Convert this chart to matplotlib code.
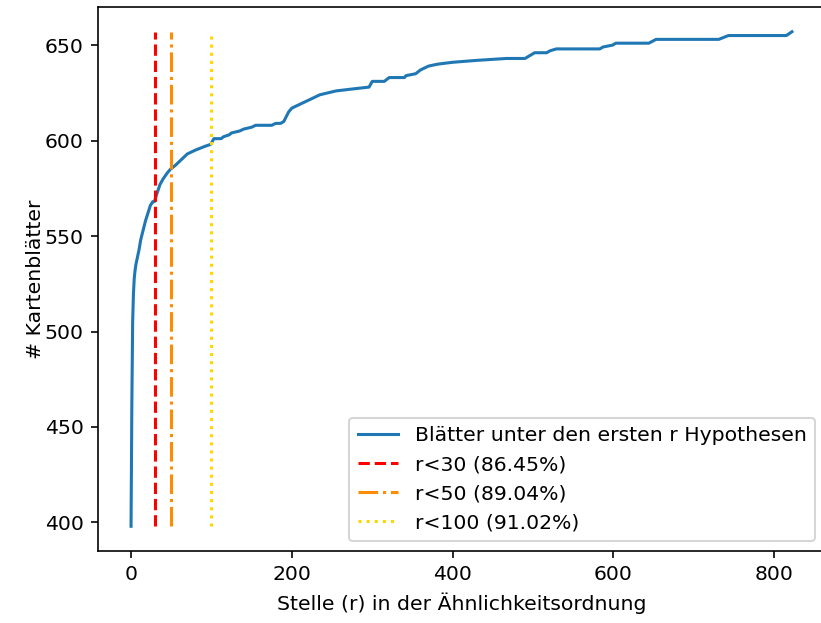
import numpy as np
import matplotlib
matplotlib.use("Agg")
import matplotlib.pyplot as plt

# Rang r in der Ähnlichkeitsordnung und Anzahl der Kartenblätter,
# deren richtige Hypothese unter den ersten r Kandidaten liegt.
ranks = [0, 1, 2, 3, 4, 5, 6, 8, 10, 12, 15, 18, 21, 24, 27, 29, 32, 36, 40,
         45, 49, 55, 60, 65, 70, 75, 80, 86, 92, 99, 103, 112, 115, 122, 125,
         135, 140, 150, 155, 175, 180, 186, 190, 196, 200, 205, 215, 225, 235,
         245, 255, 275, 296, 300, 315, 321, 340, 342, 354, 360, 370, 381, 400,
         430, 467, 490, 502, 517, 521, 529, 583, 587, 599, 603, 644, 653, 731,
         743, 815, 822]
sheets = [398, 462, 505, 520, 528, 532, 535, 539, 543, 548, 553, 558, 562, 566,
          568, 568, 572, 577, 580, 583, 585, 587, 589, 591, 593, 594, 595, 596,
          597, 598, 601, 601, 602, 603, 604, 605, 606, 607, 608, 608, 609, 609,
          610, 615, 617, 618, 620, 622, 624, 625, 626, 627, 628, 631, 631, 633,
          633, 634, 635, 637, 639, 640, 641, 642, 643, 643, 646, 646, 647, 648,
          648, 649, 650, 651, 651, 653, 653, 655, 655, 657]

cutoffs = [30, 50, 100]
cut_colors = ["red", "darkorange", "gold"]
cut_styles = ["--", "-.", ":"]

ranks = np.array(ranks)
sheets = np.array(sheets)
total = sheets.max()

DPI = 147
fig = plt.figure(figsize=(821 / DPI, 623 / DPI), dpi=DPI)
ax = fig.add_axes([98 / 821, 72 / 623, 727 / 821, 544 / 623])

ax.plot(ranks, sheets, color="#1f77b4",
        label="Blätter unter den ersten r Hypothesen")
for r, c, ls in zip(cutoffs, cut_colors, cut_styles):
    n = sheets[ranks <= r - 1][-1]
    ax.vlines(r, sheets.min(), total, colors=c, linestyles=ls,
              label=f"r<{r} ({100 * n / total:.2f}%)")

ax.set_xlabel("Stelle (r) in der Ähnlichkeitsordnung")
ax.set_ylabel("# Kartenblätter", labelpad=0)
ax.legend(loc="lower right")

fig.savefig("out.png", dpi=DPI)
